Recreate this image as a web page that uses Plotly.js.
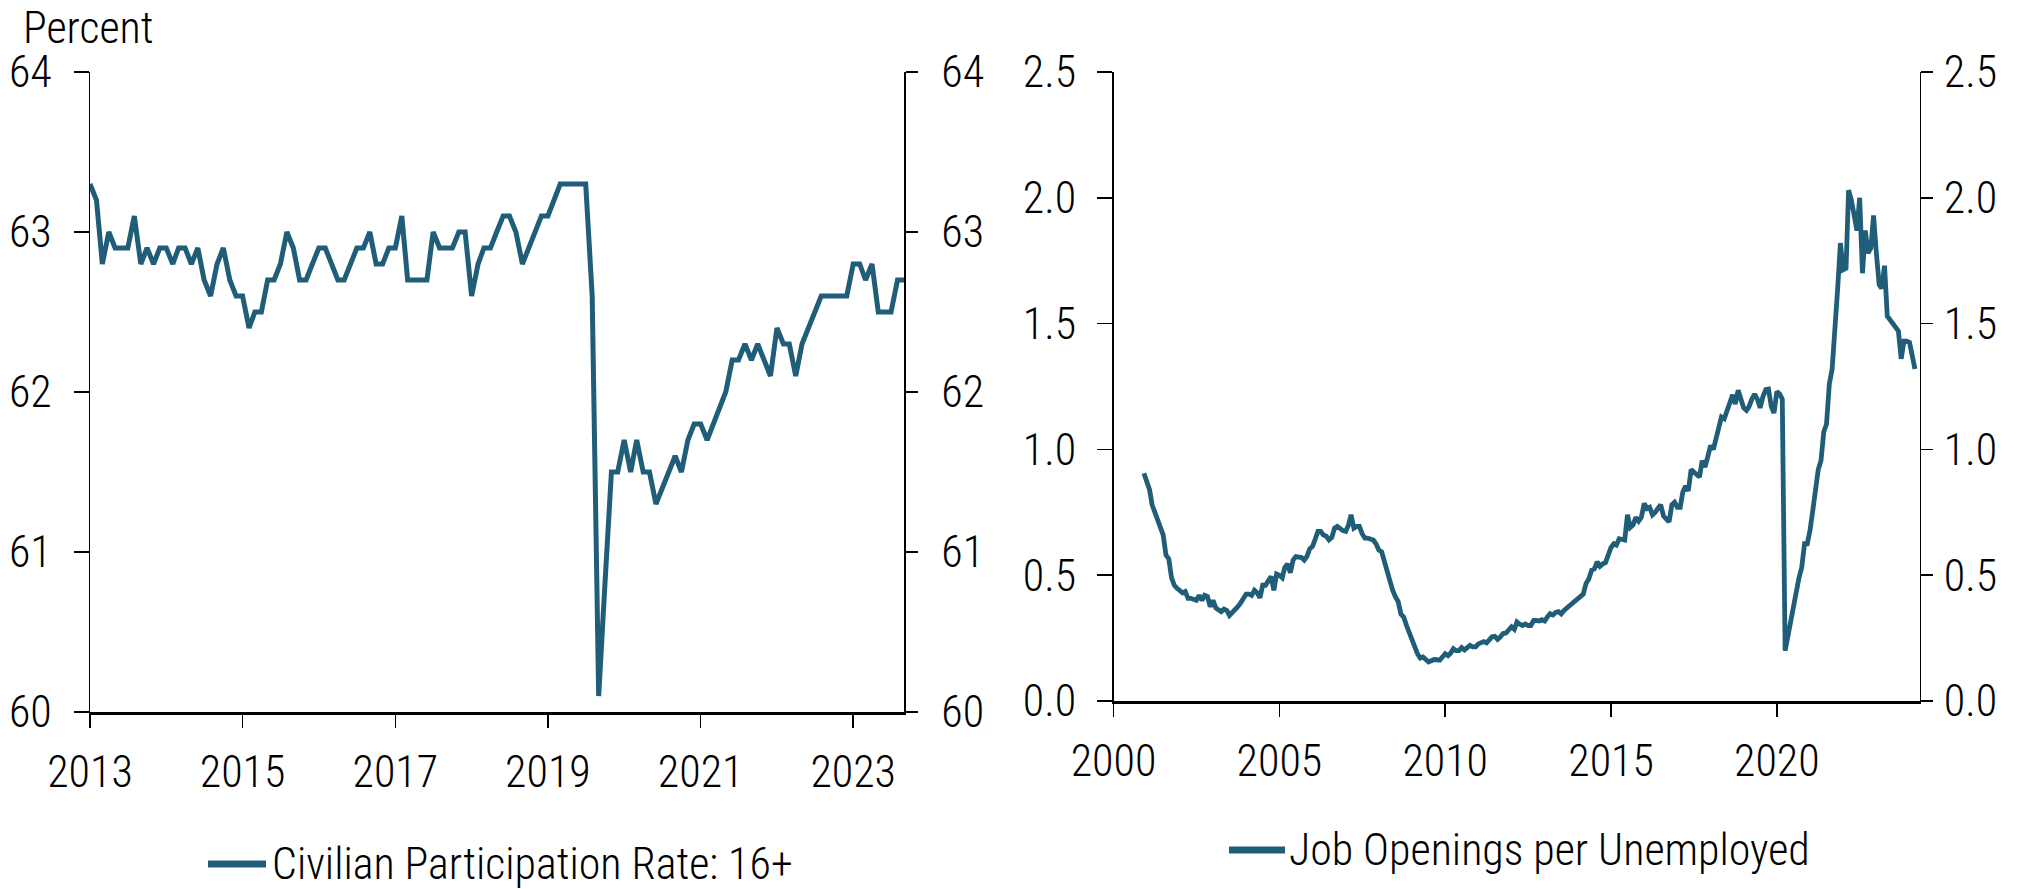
<!DOCTYPE html>
<html><head><meta charset="utf-8">
<script src="https://cdn.plot.ly/plotly-3.0.1.min.js"></script>
<style>html,body{margin:0;padding:0;background:#fff}#chart{width:2021px;height:889px}</style>
</head><body><div id="chart"></div>
<script>
const FONT = '"Roboto Condensed", "DejaVu Sans Condensed", Roboto, sans-serif';
const FONT_WEIGHT = 300;
const LINE_COLOR = '#205d79';

// ---- Left panel: Civilian Participation Rate: 16+ (monthly, percent)
const participationName = 'Civilian Participation Rate: 16+';
const participationStart = [2013, 1];
const participationRate = [
  63.3, 63.2, 62.8, 63.0, 62.9, 62.9, 62.9, 63.1, 62.8, 62.9, 62.8, 62.9,
  62.9, 62.8, 62.9, 62.9, 62.8, 62.9, 62.7, 62.6, 62.8, 62.9, 62.7, 62.6,
  62.6, 62.4, 62.5, 62.5, 62.7, 62.7, 62.8, 63.0, 62.9, 62.7, 62.7, 62.8,
  62.9, 62.9, 62.8, 62.7, 62.7, 62.8, 62.9, 62.9, 63.0,
  62.8, 62.8, 62.9, 62.9, 63.1, 62.7, 62.7, 62.7, 62.7, 63.0, 62.9, 62.9,
  62.9, 63.0, 63.0, 62.6, 62.8, 62.9, 62.9, 63.0, 63.1, 63.1, 63.0, 62.8,
  62.9, 63.0, 63.1, 63.1, 63.2, 63.3, 63.3, 63.3, 63.3, 63.3, 62.6,
  60.1, 60.8, 61.5, 61.5, 61.7, 61.5, 61.7,
  61.5, 61.5, 61.3, 61.4, 61.5, 61.6, 61.5, 61.7, 61.8, 61.8, 61.7, 61.8,
  61.9, 62.0, 62.2, 62.2, 62.3, 62.2, 62.3, 62.2, 62.1, 62.4, 62.3, 62.3,
  62.1, 62.3, 62.4, 62.5, 62.6, 62.6, 62.6, 62.6, 62.6, 62.8, 62.8, 62.7,
  62.8, 62.5, 62.5, 62.5, 62.7, 62.7
];
const participationXTickYears = ['2013', '2015', '2017', '2019', '2021', '2023'];
const participationYTicks = [60, 61, 62, 63, 64];
const participationXRange = ['2013-01-01', '2023-09-01'];
const participationYRange = [60, 64];

// ---- Right panel: Job Openings per Unemployed (monthly ratio)
const openingsName = 'Job Openings per Unemployed';
const openingsStart = [2000, 12];
const openings2000 = [0.905];
const openings2001 = [0.875, 0.84, 0.78, 0.75, 0.715, 0.68, 0.66, 0.58, 0.565, 0.49, 0.46, 0.448];
const openings2002 = [0.44, 0.43, 0.435, 0.408, 0.408, 0.405, 0.40, 0.42, 0.40, 0.42, 0.415, 0.375];
const openings2003 = [0.40, 0.37, 0.365, 0.355, 0.365, 0.36, 0.34, 0.35, 0.36, 0.375, 0.39, 0.405];
const openings2004 = [0.425, 0.425, 0.42, 0.44, 0.43, 0.41, 0.46, 0.46, 0.475, 0.495, 0.44, 0.505];
const openings2005 = [0.50, 0.49, 0.53, 0.545, 0.51, 0.56, 0.574, 0.574, 0.57, 0.56, 0.575, 0.605];
const openings2006 = [0.615, 0.645, 0.674, 0.674, 0.66, 0.655, 0.64, 0.65, 0.687, 0.694, 0.685, 0.677];
const openings2007 = [0.674, 0.70, 0.74, 0.687, 0.694, 0.694, 0.665, 0.647, 0.647, 0.645, 0.64, 0.625];
const openings2008 = [0.60, 0.593, 0.555, 0.53, 0.49, 0.44, 0.415, 0.395, 0.345, 0.334, 0.30, 0.27];
const openings2009 = [0.24, 0.215, 0.188, 0.171, 0.175, 0.165, 0.155, 0.16, 0.165, 0.164, 0.162, 0.175];
const openings2010 = [0.188, 0.18, 0.19, 0.208, 0.20, 0.20, 0.212, 0.203, 0.21, 0.221, 0.215, 0.215];
const openings2011 = [0.227, 0.232, 0.236, 0.231, 0.24, 0.255, 0.257, 0.245, 0.255, 0.268, 0.27, 0.285];
const openings2012 = [0.295, 0.285, 0.314, 0.305, 0.30, 0.306, 0.30, 0.30, 0.32, 0.32, 0.318, 0.323];
const openings2013 = [0.318, 0.335, 0.347, 0.342, 0.352, 0.355, 0.346, 0.36, 0.37, 0.378, 0.388, 0.40];
const openings2014 = [0.41, 0.418, 0.425, 0.467, 0.485, 0.52, 0.525, 0.553, 0.535, 0.545, 0.55, 0.58];
const openings2015 = [0.61, 0.625, 0.62, 0.645, 0.64, 0.64, 0.74, 0.69, 0.70, 0.73, 0.715, 0.73];
const openings2016 = [0.785, 0.765, 0.77, 0.74, 0.75, 0.77, 0.78, 0.735, 0.725, 0.712, 0.78, 0.79];
const openings2017 = [0.77, 0.77, 0.83, 0.854, 0.835, 0.92, 0.91, 0.90, 0.89, 0.955, 0.93, 0.97];
const openings2018 = [1.015, 1.0, 1.04, 1.08, 1.129, 1.122, 1.15, 1.18, 1.217, 1.18, 1.235, 1.20];
const openings2019 = [1.165, 1.155, 1.17, 1.20, 1.22, 1.20, 1.165, 1.21, 1.238, 1.24, 1.17, 1.145];
const openings2020 = [1.23, 1.22, 1.20, 0.20, 0.26, 0.31, 0.363, 0.44, 0.49, 0.53, 0.625, 0.625];
const openings2021 = [0.68, 0.76, 0.85, 0.92, 0.955, 1.07, 1.10, 1.26, 1.32, 1.45, 1.64, 1.82];
const openings2022 = [1.714, 1.72, 2.03, 1.99, 1.936, 1.87, 2.0, 1.70, 1.87, 1.78, 1.80, 1.93];
const openings2023 = [1.78, 1.655, 1.64, 1.73, 1.53, 1.515, 1.50, 1.48, 1.47, 1.36, 1.43, 1.43];
const openings2024 = [1.425, 1.37, 1.32];
const openingsXTickYears = ['2000', '2005', '2010', '2015', '2020'];
const openingsYTicks = [0, 0.5, 1.0, 1.5, 2.0, 2.5];
const openingsXRange = ['2000-01-01', '2024-04-20'];
const openingsYRange = [0, 2.5];

const jobOpeningsRatio = [].concat(openings2000, openings2001, openings2002, openings2003,
  openings2004, openings2005, openings2006, openings2007, openings2008, openings2009,
  openings2010, openings2011, openings2012, openings2013, openings2014, openings2015,
  openings2016, openings2017, openings2018, openings2019, openings2020, openings2021,
  openings2022, openings2023, openings2024);

function monthDates(start, n) {
  const out = [];
  let y = start[0], m = start[1];
  for (let i = 0; i < n; i++) {
    out.push(y + '-' + String(m).padStart(2, '0') + '-01');
    m++; if (m > 12) { m = 1; y++; }
  }
  return out;
}
const participationDates = monthDates(participationStart, participationRate.length);
const openingsDates = monthDates(openingsStart, jobOpeningsRatio.length);

const W = 2021, H = 889;
const px = v => v / W;
const py = v => 1 - v / H;

const textFont = {family: FONT, size: 44, color: '#000', weight: FONT_WEIGHT};

function xAxis(domain, range, years, anchor) {
  return {
    domain: domain, anchor: anchor, type: 'date', range: range,
    tickvals: years.map(y => y + '-01-01'), ticktext: years,
    ticks: 'outside', ticklen: 13, tickwidth: 1.5, tickcolor: '#000', ticklabelstandoff: 7,
    showline: true, linewidth: 2.5, linecolor: '#000',
    showgrid: false, zeroline: false, tickfont: textFont, fixedrange: true
  };
}
function yAxis(domain, range, ticks, anchor, side, overlay, fmt, len, standoff) {
  const a = {
    domain: domain, anchor: anchor, side: side, range: range,
    tickvals: ticks, ticktext: ticks.map(t => fmt ? t.toFixed(1) : String(t)),
    ticks: 'outside', ticklen: len, tickwidth: 1.5, tickcolor: '#000', ticklabelstandoff: standoff,
    showline: true, linewidth: 1.5, linecolor: '#000',
    showgrid: false, zeroline: false, tickfont: textFont, fixedrange: true
  };
  if (overlay) a.overlaying = overlay;
  return a;
}

const leftXDom = [px(90), px(904)];
const leftYDom = [py(712), py(72)];
const rightXDom = [px(1113.5), px(1919.5)];
const rightYDom = [py(701), py(72)];

const traces = [
  {x: participationDates, y: participationRate, name: participationName, type: 'scatter', mode: 'lines',
   xaxis: 'x', yaxis: 'y', line: {color: LINE_COLOR, width: 5}, showlegend: false, hoverinfo: 'skip'},
  {x: participationDates, y: participationRate, type: 'scatter', mode: 'lines', showlegend: false,
   xaxis: 'x', yaxis: 'y2', line: {color: 'rgba(0,0,0,0)', width: 0}, hoverinfo: 'skip'},
  {x: openingsDates, y: jobOpeningsRatio, name: openingsName, type: 'scatter', mode: 'lines',
   xaxis: 'x3', yaxis: 'y3', line: {color: LINE_COLOR, width: 4.8}, showlegend: false, hoverinfo: 'skip'},
  {x: openingsDates, y: jobOpeningsRatio, type: 'scatter', mode: 'lines', showlegend: false,
   xaxis: 'x3', yaxis: 'y4', line: {color: 'rgba(0,0,0,0)', width: 0}, hoverinfo: 'skip'}
];

// legend keys (line sample + label) for each panel
const legendKeys = [
  {name: participationName, x0: 208, x1: 266, y: 864, textX: 273},
  {name: openingsName, x0: 1229, x1: 1285, y: 850, textX: 1290}
];

const layout = {
  width: W, height: H,
  margin: {l: 0, r: 0, t: 0, b: 0},
  paper_bgcolor: '#fff', plot_bgcolor: 'rgba(0,0,0,0)',
  font: textFont,
  showlegend: false,
  xaxis: xAxis(leftXDom, participationXRange, participationXTickYears, 'y'),
  yaxis: yAxis(leftYDom, participationYRange, participationYTicks, 'x', 'left', null, false, 15, 13),
  yaxis2: yAxis(leftYDom, participationYRange, participationYTicks, 'x', 'right', 'y', false, 12, 15),
  xaxis3: xAxis(rightXDom, openingsXRange, openingsXTickYears, 'y3'),
  yaxis3: yAxis(rightYDom, openingsYRange, openingsYTicks, 'x3', 'left', null, true, 15, 12),
  yaxis4: yAxis(rightYDom, openingsYRange, openingsYTicks, 'x3', 'right', 'y3', true, 12, 2),
  shapes: legendKeys.map(k => ({
    type: 'line', xref: 'paper', yref: 'paper', x0: px(k.x0), x1: px(k.x1), y0: py(k.y), y1: py(k.y),
    line: {color: LINE_COLOR, width: 7}
  })),
  annotations: [
    {text: 'Percent', xref: 'paper', yref: 'paper', x: px(21), xanchor: 'left', y: py(28), yanchor: 'middle',
     showarrow: false, font: textFont}
  ].concat(legendKeys.map(k => ({
    text: k.name, xref: 'paper', yref: 'paper', x: px(k.textX), xanchor: 'left', xshift: -3,
    y: py(k.y), yanchor: 'middle', showarrow: false, font: textFont
  })))
};

Plotly.newPlot('chart', traces, layout, {displayModeBar: false, staticPlot: true});
</script>
</body></html>
